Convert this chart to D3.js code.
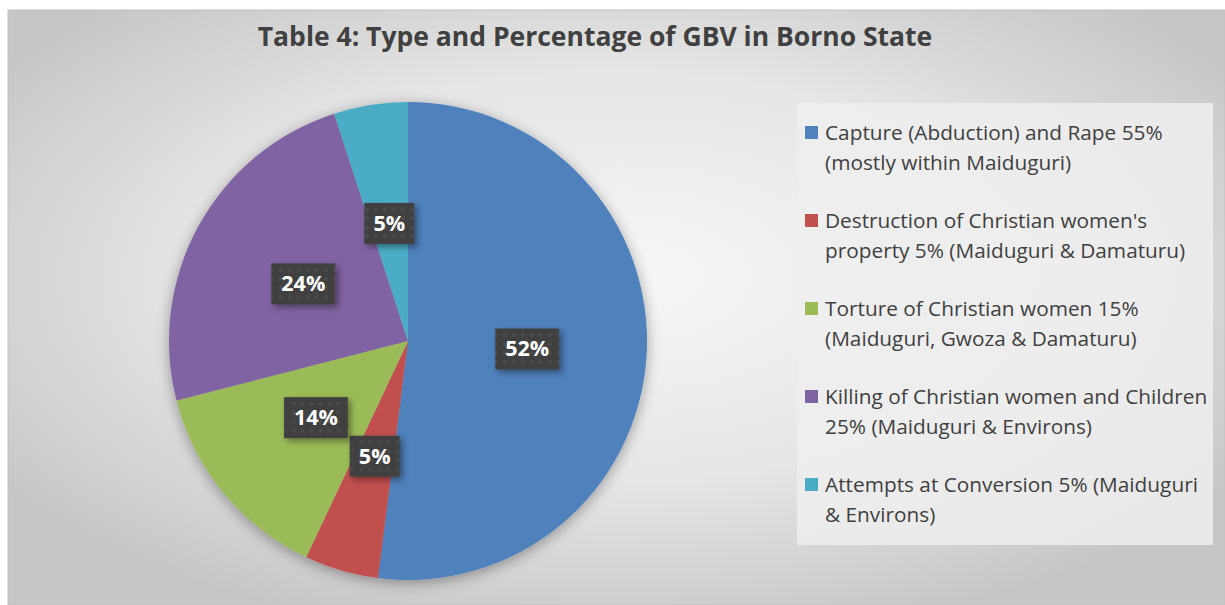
<!DOCTYPE html>
<html>
<head>
<meta charset="utf-8">
<script src="https://cdn.jsdelivr.net/npm/d3@7"></script>
<style>
  body { margin: 0; background: #fff; }
  svg { display: block; font-family: "Open Sans", Lato, sans-serif; }
</style>
</head>
<body>
<svg id="chart"></svg>
<script>
var chartTitle = 'Table 4: Type and Percentage of GBV in Borno State';
var categories = [
    ['Capture (Abduction) and Rape 55%', '(mostly within Maiduguri)'],
    ["Destruction of Christian women's", 'property 5% (Maiduguri & Damaturu)'],
    ['Torture of Christian women 15%', '(Maiduguri, Gwoza & Damaturu)'],
    ['Killing of Christian women and Children', '25% (Maiduguri & Environs)'],
    ['Attempts at Conversion 5% (Maiduguri', '& Environs)']
];
var values = [52, 5, 14, 24, 5];
var colors = ['#4f81bd', '#c0504d', '#9bbb59', '#8064a2', '#4bacc6'];

var svgWidth = 1225, svgHeight = 605;
var svg = d3.select('#chart')
    .attr('width', svgWidth)
    .attr('height', svgHeight);

var defs = svg.append('defs');

// chart area background - light in the middle, grey at the edges
var bg = defs.append('radialGradient')
    .attr('id', 'bgGrad')
    .attr('cx', '50%').attr('cy', '45%').attr('r', '62%');
bg.append('stop').attr('offset', '0%').attr('stop-color', '#f7f7f7');
bg.append('stop').attr('offset', '55%').attr('stop-color', '#e6e6e6');
bg.append('stop').attr('offset', '100%').attr('stop-color', '#c6c6c6');

// dotted texture for data label boxes
var pat = defs.append('pattern')
    .attr('id', 'dots')
    .attr('width', 9).attr('height', 9)
    .attr('patternUnits', 'userSpaceOnUse');
pat.append('rect').attr('width', 9).attr('height', 9).attr('fill', '#3f3f3f');
pat.append('circle').attr('cx', 4.5).attr('cy', 4.5).attr('r', 2).attr('fill', '#4c4c4c');

var pieShadow = defs.append('filter').attr('id', 'pieShadow')
    .attr('x', '-20%').attr('y', '-20%').attr('width', '140%').attr('height', '140%');
pieShadow.append('feDropShadow')
    .attr('dx', 0).attr('dy', 3).attr('stdDeviation', 7)
    .attr('flood-color', '#000').attr('flood-opacity', 0.35);

var boxShadow = defs.append('filter').attr('id', 'boxShadow')
    .attr('x', '-30%').attr('y', '-30%').attr('width', '160%').attr('height', '160%');
boxShadow.append('feDropShadow')
    .attr('dx', 3).attr('dy', 3).attr('stdDeviation', 3)
    .attr('flood-color', '#000').attr('flood-opacity', 0.4);

svg.append('rect')
    .attr('x', 8).attr('y', 10)
    .attr('width', svgWidth - 8).attr('height', svgHeight - 10)
    .attr('fill', 'url(#bgGrad)')
    .attr('stroke', '#c0c0c0');

svg.append('text')
    .attr('x', 595).attr('y', 46)
    .attr('text-anchor', 'middle')
    .attr('font-size', 26.5)
    .attr('font-weight', 'bold')
    .attr('fill', '#404040')
    .text(chartTitle);

// pie
var cx = 408, cy = 341, radius = 239;
var pie = d3.pie().sort(null).value(function(d) { return d; });
var arc = d3.arc().innerRadius(0).outerRadius(radius);
var arcs = pie(values);

var g = svg.append('g')
    .attr('transform', 'translate(' + cx + ',' + cy + ')');

g.append('g')
    .attr('filter', 'url(#pieShadow)')
    .selectAll('path')
    .data(arcs)
    .enter().append('path')
    .attr('d', arc)
    .attr('fill', function(d, i) { return colors[i]; });

// data labels at centroid (half radius)
var labels = g.selectAll('.lbl')
    .data(arcs)
    .enter().append('g')
    .attr('class', 'lbl')
    .attr('transform', function(d) {
        var c = arc.centroid(d);
        return 'translate(' + c[0] + ',' + c[1] + ')';
    });

labels.append('rect')
    .attr('x', function(d) { return d.value >= 10 ? -32 : -25; })
    .attr('y', -20)
    .attr('width', function(d) { return d.value >= 10 ? 64 : 50; })
    .attr('height', 41)
    .attr('fill', 'url(#dots)')
    .attr('filter', 'url(#boxShadow)');

labels.append('text')
    .attr('text-anchor', 'middle')
    .attr('dy', '0.36em')
    .attr('font-size', 21.5)
    .attr('font-weight', 'bold')
    .attr('fill', '#fff')
    .text(function(d) { return d.value + '%'; });

// legend
var legend = svg.append('g');
legend.append('rect')
    .attr('x', 797).attr('y', 103)
    .attr('width', 416).attr('height', 442)
    .attr('fill', '#eeeeee')
    .attr('fill-opacity', 0.85);

var items = legend.selectAll('.item')
    .data(categories)
    .enter().append('g')
    .attr('class', 'item')
    .attr('transform', function(d, i) { return 'translate(805,' + (133 + i * 88) + ')'; });

items.append('rect')
    .attr('x', 0).attr('y', -7)
    .attr('width', 13).attr('height', 13)
    .attr('fill', function(d, i) { return colors[i]; });

items.selectAll('text')
    .data(function(d) { return d; })
    .enter().append('text')
    .attr('x', 20)
    .attr('y', function(d, j) { return 7 + j * 30; })
    .attr('font-size', 20.8)
    .attr('fill', '#404040')
    .text(function(d) { return d; });
</script>
</body>
</html>
